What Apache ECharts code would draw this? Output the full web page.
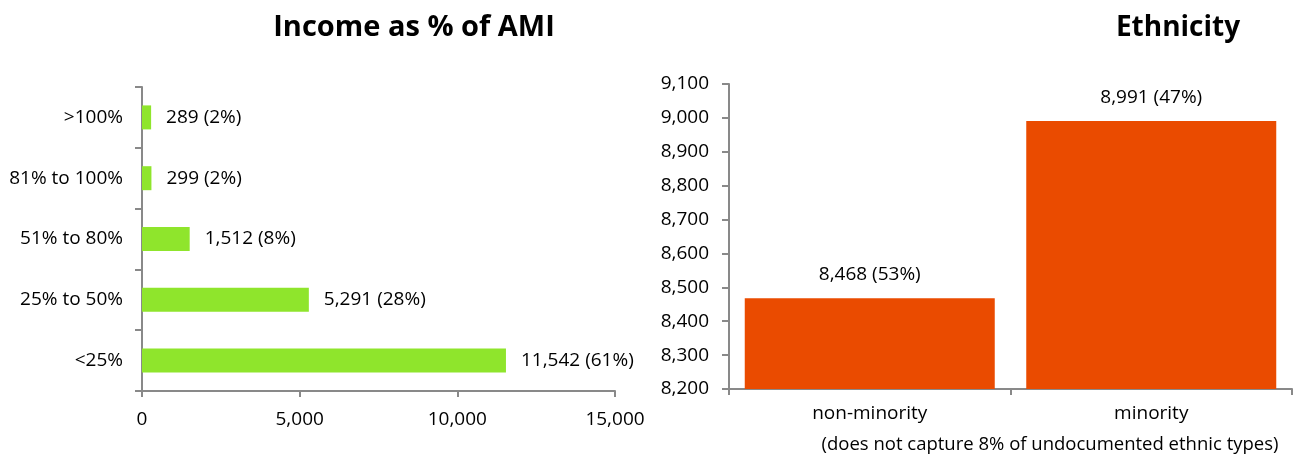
<!DOCTYPE html>
<html>
<head>
<meta charset="utf-8">
<script src="https://cdn.jsdelivr.net/npm/echarts@6/dist/echarts.min.js"></script>
<style>
  html, body { margin: 0; padding: 0; background: #fff; }
  #main { width: 1294px; height: 455px; }
</style>
</head>
<body>
<div id="main"></div>
<script>
// income as % of AMI (bottom to top)
var incomeCats = ['<25%', '25% to 50%', '51% to 80%', '81% to 100%', '>100%'];
var incomeValues = [11542, 5291, 1512, 299, 289];
var incomePct = [61, 28, 8, 2, 2];

// ethnicity
var ethCats = ['non-minority', 'minority'];
var ethValues = [8468, 8991];
var ethPct = [53, 47];

var incomeTicks = { min: 0, max: 15000, interval: 5000 };
var ethTicks = { min: 8200, max: 9100, interval: 100 };

var font = '"Open Sans", "Noto Sans", sans-serif';
var axisGray = '#898989';
var fs = 19;

function fmt(n) {
    return String(n).replace(/\B(?=(\d{3})+(?!\d))/g, ',');
}

var chart = echarts.init(document.getElementById('main'));

var option = {
    animation: false,
    textStyle: { fontFamily: font, color: '#000' },
    graphic: [
        {
            type: 'text', x: 414, y: 28,
            style: { text: 'Income as % of AMI', font: 'bold 29px ' + font, fill: '#000', align: 'center', verticalAlign: 'middle' }
        },
        {
            type: 'text', x: 1178, y: 28,
            style: { text: 'Ethnicity', font: 'bold 28px ' + font, fill: '#000', align: 'center', verticalAlign: 'middle' }
        },
        {
            type: 'text', x: 1050, y: 445,
            style: { text: '(does not capture 8% of undocumented ethnic types)', font: '18.5px ' + font, fill: '#000', align: 'center', verticalAlign: 'middle' }
        }
    ],
    grid: [
        { left: 142, right: 679, top: 87, bottom: 64 },
        { left: 729, right: 2, top: 84, bottom: 66 }
    ],
    xAxis: [
        {
            gridIndex: 0,
            type: 'value',
            min: incomeTicks.min, max: incomeTicks.max, interval: incomeTicks.interval,
            splitLine: { show: false },
            axisLine: { show: true, lineStyle: { color: axisGray, width: 2 } },
            axisTick: { show: true, length: 6, lineStyle: { color: axisGray, width: 2 } },
            axisLabel: { margin: 19, fontSize: fs, color: '#000', fontFamily: font, formatter: fmt }
        },
        {
            gridIndex: 1,
            type: 'category',
            data: ethCats,
            axisLine: { show: true, lineStyle: { color: axisGray, width: 2 } },
            axisTick: { show: true, length: 6, lineStyle: { color: axisGray, width: 2 } },
            axisLabel: { margin: 15, fontSize: fs, color: '#000', fontFamily: font }
        }
    ],
    yAxis: [
        {
            gridIndex: 0,
            type: 'category',
            data: incomeCats,
            axisLine: { show: true, lineStyle: { color: axisGray, width: 2 } },
            axisTick: { show: true, length: 7, lineStyle: { color: axisGray, width: 2 } },
            axisLabel: { margin: 19, fontSize: fs, color: '#000', fontFamily: font }
        },
        {
            gridIndex: 1,
            type: 'value',
            min: ethTicks.min, max: ethTicks.max, interval: ethTicks.interval,
            splitLine: { show: false },
            axisLine: { show: true, lineStyle: { color: axisGray, width: 2 } },
            axisTick: { show: true, length: 7, lineStyle: { color: axisGray, width: 2 } },
            axisLabel: { margin: 20, fontSize: fs, color: '#000', fontFamily: font, formatter: fmt }
        }
    ],
    series: [
        {
            type: 'bar',
            xAxisIndex: 0, yAxisIndex: 0,
            data: incomeValues,
            barWidth: 24,
            itemStyle: { color: '#8FE52C' },
            label: {
                show: true, position: 'right', distance: 15,
                fontSize: fs, color: '#000', fontFamily: font,
                formatter: function (p) { return fmt(p.value) + ' (' + incomePct[p.dataIndex] + '%)'; }
            }
        },
        {
            type: 'bar',
            xAxisIndex: 1, yAxisIndex: 1,
            data: ethValues,
            barWidth: 250,
            itemStyle: { color: '#EA4B00' },
            label: {
                show: true, position: 'top', distance: 14,
                fontSize: fs, color: '#000', fontFamily: font,
                formatter: function (p) { return fmt(p.value) + ' (' + ethPct[p.dataIndex] + '%)'; }
            }
        }
    ]
};

chart.setOption(option);
</script>
</body>
</html>
